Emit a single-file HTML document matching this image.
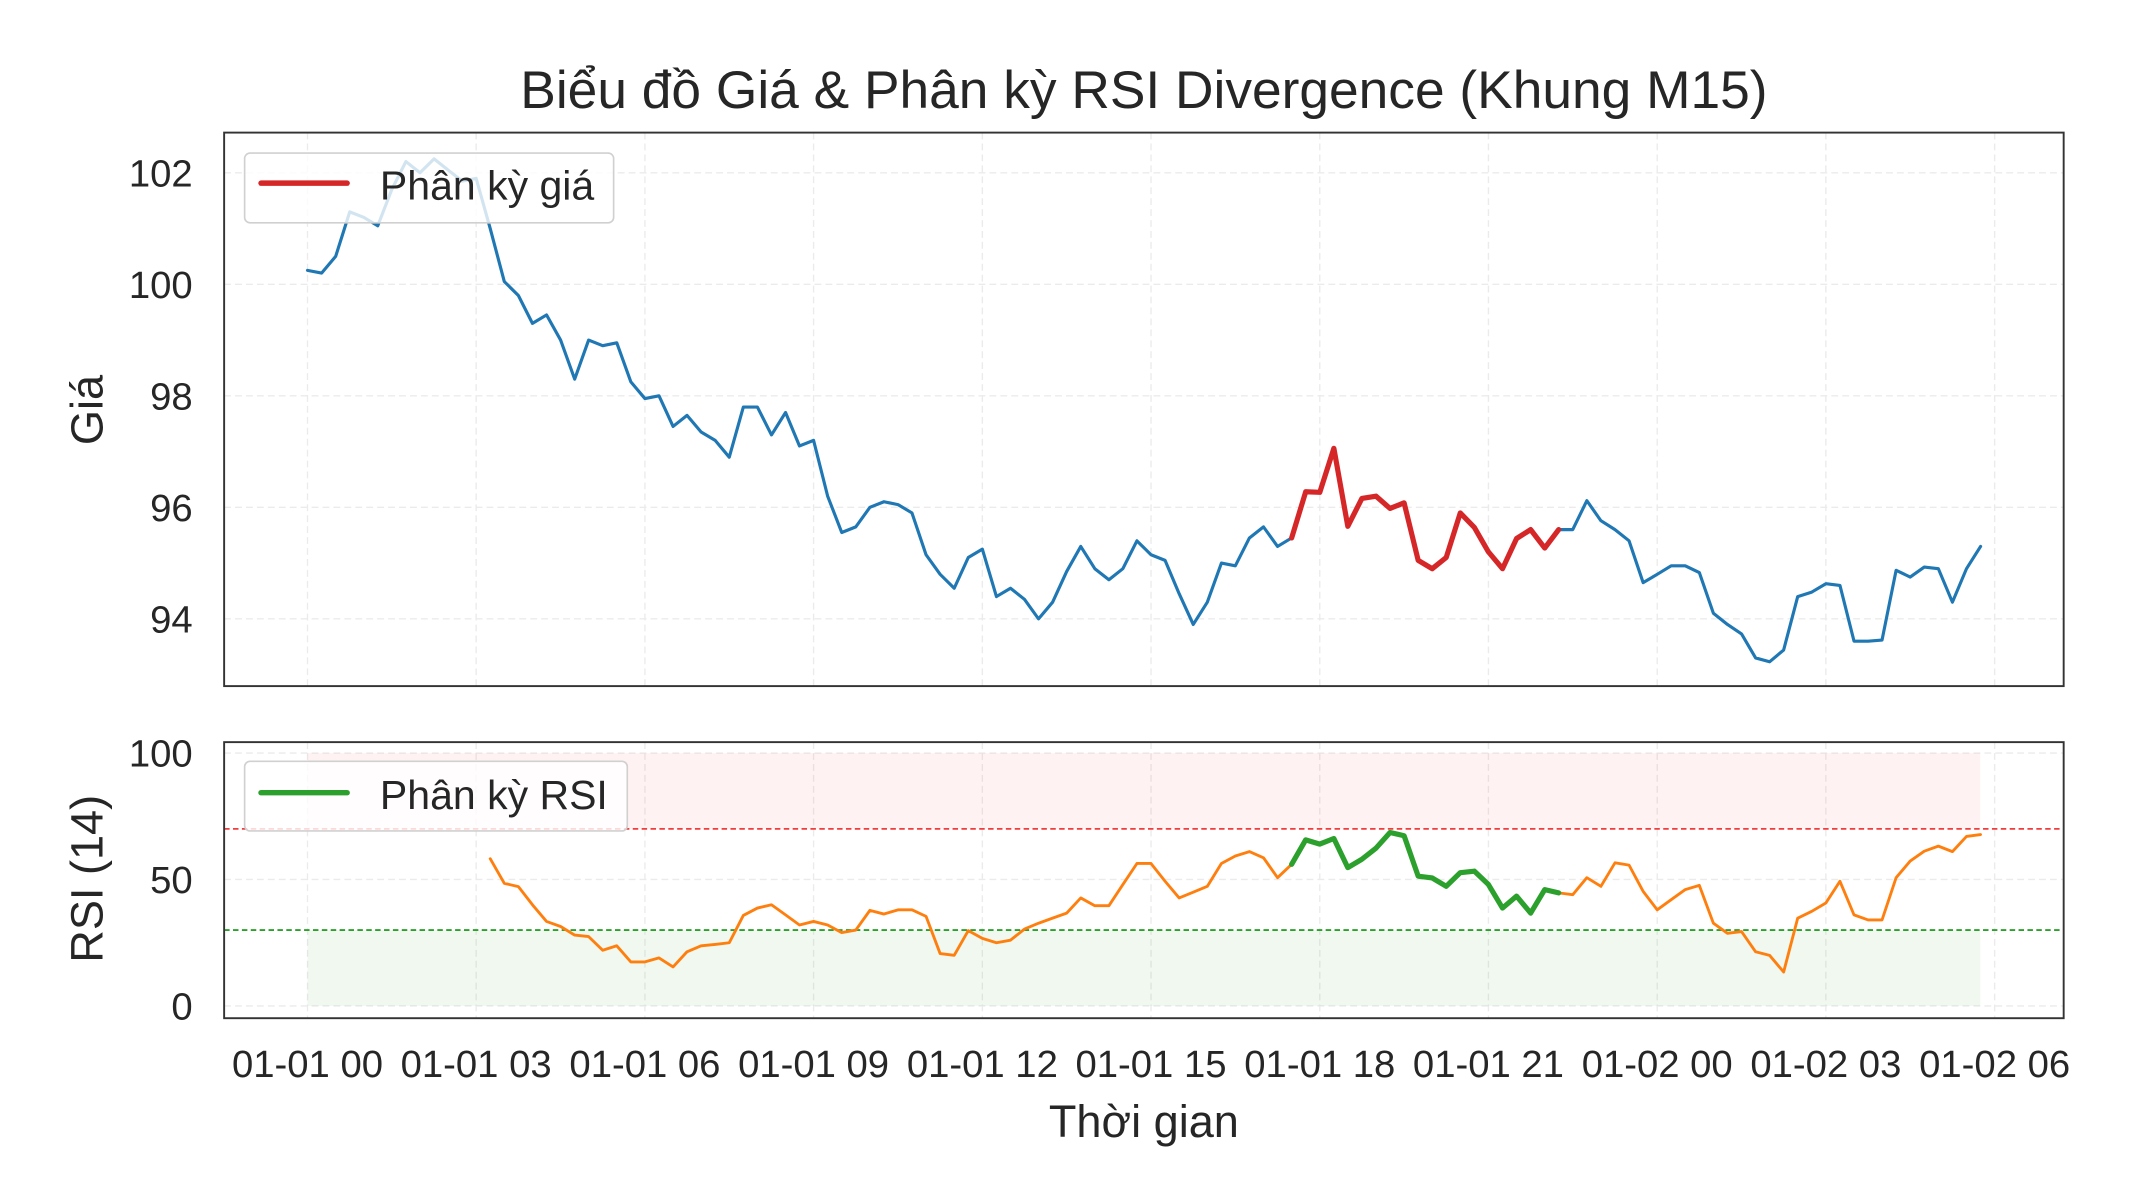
<!DOCTYPE html>
<html><head><meta charset="utf-8"><style>html,body{margin:0;padding:0;background:#fff}svg{display:block}text{font-family:"Liberation Sans",Arial,sans-serif;fill:#262626}</style></head>
<body>
<svg id="s" width="2132" height="1200" viewBox="0 0 1560 878" xmlns="http://www.w3.org/2000/svg">
<rect width="1560" height="878" fill="#fff"/>
<text x="837" y="79" font-size="39" text-anchor="middle">Biểu đồ Giá &amp; Phân kỳ RSI Divergence (Khung M15)</text>
<g id="grid" stroke="#ebebeb" stroke-width="1" stroke-dasharray="5,3"></g>
<g id="ticks" font-size="28"></g>
<rect x="225" y="551" width="1224" height="55.5" fill="#ff0000" fill-opacity="0.05"/>
<rect x="225" y="680.5" width="1224" height="55.5" fill="#2ca02c" fill-opacity="0.07"/>
<line x1="164" x2="1510" y1="606.5" y2="606.5" stroke="#f03c3c" stroke-width="1.3" stroke-dasharray="4,2.5"/>
<line x1="164" x2="1510" y1="680.5" y2="680.5" stroke="#2ca02c" stroke-width="1.3" stroke-dasharray="4,2.5"/>
<g id="lines" fill="none" stroke-linejoin="round" stroke-linecap="round"></g>
<rect x="164" y="97" width="1346" height="405" fill="none" stroke="#333" stroke-width="1.4"/>
<rect x="164" y="543" width="1346" height="202" fill="none" stroke="#333" stroke-width="1.4"/>
<rect x="179" y="112" width="270" height="51" rx="4" fill="#fff" fill-opacity="0.8" stroke="#d0d0d0" stroke-width="1.2"/>
<line x1="191" x2="254" y1="134" y2="134" stroke="#d62728" stroke-width="4" stroke-linecap="round"/>
<text x="278" y="146" font-size="30">Phân kỳ giá</text>
<rect x="179" y="557" width="280" height="51" rx="4" fill="#fff" fill-opacity="0.8" stroke="#d0d0d0" stroke-width="1.2"/>
<line x1="191" x2="254" y1="580" y2="580" stroke="#2ca02c" stroke-width="4" stroke-linecap="round"/>
<text x="278" y="592" font-size="30">Phân kỳ RSI</text>
<text transform="translate(75,300) rotate(-90)" font-size="33" text-anchor="middle">Giá</text>
<text transform="translate(75,643) rotate(-90)" font-size="33" text-anchor="middle">RSI (14)</text>
<text x="837" y="832" font-size="33" text-anchor="middle">Thời gian</text>
</svg>
<script>
var P=[100.25,100.2,100.5,101.3,101.2,101.05,101.7,102.2,102.0,102.25,102.05,101.85,101.9,101.0,100.05,99.8,99.3,99.45,99.0,98.3,99.0,98.9,98.95,98.25,97.95,98.0,97.45,97.65,97.35,97.2,96.9,97.8,97.8,97.3,97.7,97.1,97.2,96.2,95.55,95.65,96.0,96.1,96.05,95.9,95.15,94.8,94.55,95.1,95.25,94.4,94.55,94.35,94.0,94.3,94.85,95.3,94.9,94.7,94.9,95.4,95.15,95.05,94.45,93.9,94.3,95.0,94.95,95.45,95.65,95.3,95.45,96.28,96.27,97.06,95.66,96.16,96.2,95.98,96.08,95.05,94.9,95.1,95.9,95.64,95.2,94.9,95.44,95.6,95.27,95.6,95.6,96.12,95.76,95.6,95.4,94.65,94.8,94.95,94.95,94.83,94.1,93.9,93.73,93.3,93.23,93.44,94.4,94.48,94.63,94.6,93.6,93.6,93.62,94.87,94.75,94.93,94.9,94.3,94.9,95.3];
var R={13:58.2,14:48.5,15:47.2,16:40,17:33.4,18:31.4,19:28,20:27.4,21:22,22:23.8,23:17.4,24:17.4,25:19,26:15.4,27:21.4,28:23.8,29:24.3,30:25,31:35.8,32:38.7,33:40,34:36,35:32,36:33.4,37:32,38:29,39:30,40:37.8,41:36.3,42:38,43:38,44:35.4,45:20.7,46:20,47:29.8,48:26.7,49:25,50:26,51:30.4,52:32.7,53:34.7,54:36.7,55:42.7,56:39.6,57:39.6,58:48,59:56.3,60:56.3,61:49.3,62:42.7,63:45,64:47.3,65:56.3,66:59.3,67:61,68:58.6,69:50.7,70:56,71:65.7,72:64,73:66.2,74:54.7,75:58,76:62.4,77:68.6,78:67.3,79:51.3,80:50.6,81:47.3,82:52.7,83:53.3,84:48,85:38.7,86:43.4,87:36.7,88:46,89:44.7,90:44,91:50.7,92:47.3,93:56.6,94:55.7,95:45.3,96:38,97:42,98:46,99:47.7,100:32.7,101:28.7,102:29.4,103:21.4,104:20,105:13.4,106:34.7,107:37.4,108:40.7,109:49.3,110:36,111:34,112:34,113:50.7,114:57.3,115:61.2,116:63.2,117:61,118:67,119:67.8};
function X(i){return 225+10.287*i}
function yp(v){return 208-(v-100)*40.8}
function yr(v){return 736-v*1.85}
var ns="http://www.w3.org/2000/svg";
function el(t,a,p){var e=document.createElementNS(ns,t);for(var k in a)e.setAttribute(k,a[k]);document.getElementById(p).appendChild(e);return e}
function pl(a,b,f,col,w){var s=[];for(var i=a;i<=b;i++)s.push(X(i).toFixed(1)+","+f(i).toFixed(1));el("polyline",{points:s.join(" "),stroke:col,"stroke-width":w},"lines")}
var gx=[225,348.4,471.9,595.3,718.8,842.2,965.7,1089.1,1212.6,1336,1459.5];
var labs=["01-01 00","01-01 03","01-01 06","01-01 09","01-01 12","01-01 15","01-01 18","01-01 21","01-02 00","01-02 03","01-02 06"];
gx.forEach(function(x,k){el("line",{x1:x,x2:x,y1:97,y2:502},"grid");el("line",{x1:x,x2:x,y1:543,y2:745},"grid");
 var t=el("text",{x:x,y:788,"text-anchor":"middle"},"ticks");t.textContent=labs[k];});
[94,96,98,100,102].forEach(function(v){var y=yp(v);el("line",{x1:164,x2:1510,y1:y,y2:y},"grid");var t=el("text",{x:141,y:y+10,"text-anchor":"end"},"ticks");t.textContent=v;});
[0,50,100].forEach(function(v){var y=yr(v);el("line",{x1:164,x2:1510,y1:y,y2:y},"grid");var t=el("text",{x:141,y:y+10,"text-anchor":"end"},"ticks");t.textContent=v;});
pl(0,70,function(i){return yp(P[i])},"#1f77b4",2.3);
pl(89,119,function(i){return yp(P[i])},"#1f77b4",2.3);
pl(70,89,function(i){return yp(P[i])},"#d62728",3.8);
pl(13,70,function(i){return yr(R[i])},"#ff7f0e",2.1);
pl(89,119,function(i){return yr(R[i])},"#ff7f0e",2.1);
pl(70,89,function(i){return yr(R[i])},"#2ca02c",3.8);
</script>
</body></html>
